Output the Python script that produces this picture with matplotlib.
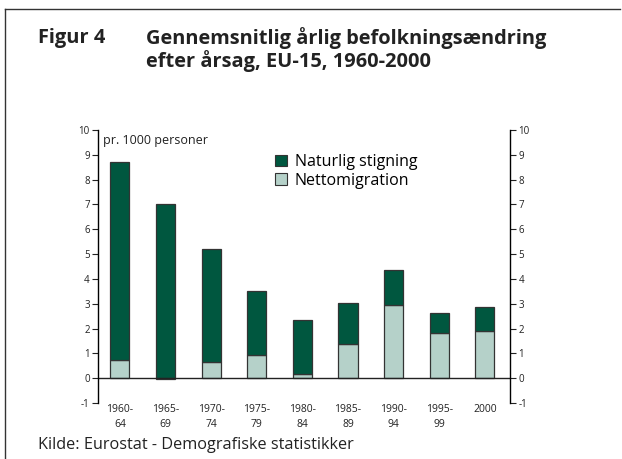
import matplotlib.pyplot as plt
from matplotlib.lines import Line2D
from matplotlib.patches import Patch

plt.rcParams['font.family'] = ['Open Sans', 'DejaVu Sans']
plt.rcParams['axes.unicode_minus'] = False

# data (pr. 1000 personer)
perioder = ['1960-\n64', '1965-\n69', '1970-\n74', '1975-\n79', '1980-\n84',
            '1985-\n89', '1990-\n94', '1995-\n99', '2000']
total = [8.70, 7.00, 5.20, 3.50, 2.33, 3.03, 4.35, 2.62, 2.85]
nettomigration = [0.75, -0.05, 0.65, 0.92, 0.18, 1.38, 2.93, 1.83, 1.92]
naturlig = [t - max(m, 0) for t, m in zip(total, nettomigration)]

dark = '#00573f'
light = '#b5d1c9'
edge = '#333333'

fig = plt.figure(figsize=(6.22, 4.59), dpi=100)
ax = fig.add_axes([98 / 622, 1 - 403 / 459, 412 / 622, 273 / 459])

x = list(range(len(perioder)))
bottoms = [max(m, 0) for m in nettomigration]
ax.bar(x, nettomigration, width=0.42, color=light, edgecolor=edge, linewidth=0.9)
ax.bar(x, naturlig, width=0.42, bottom=bottoms, color=dark, edgecolor=edge, linewidth=0.9)

ax.set_xlim(-0.48, 8.55)
ax.set_ylim(-1, 10)
ax.set_yticks(range(-1, 11))
ax.axhline(0, color='#222222', linewidth=1.0)

for s in ['top', 'bottom', 'right']:
    ax.spines[s].set_visible(False)
ax.spines['left'].set_linewidth(1.0)
ax.tick_params(axis='y', labelsize=7, length=4, width=0.8, color='#222222',
               labelcolor='#222222', pad=2)
ax.set_xticks(x)
ax.set_xticklabels(perioder, fontsize=7.5, color='#222222', linespacing=1.5)
ax.tick_params(axis='x', length=0, pad=1)

ax2 = ax.twinx()
ax2.set_ylim(-1, 10)
ax2.set_yticks(range(-1, 11))
for s in ['top', 'bottom', 'left']:
    ax2.spines[s].set_visible(False)
ax2.spines['right'].set_linewidth(1.0)
ax2.tick_params(axis='y', labelsize=7, length=4, width=0.8, color='#222222',
                labelcolor='#222222', pad=2)

ax.text(0.012, 0.985, 'pr. 1000 personer', transform=ax.transAxes, fontsize=9,
        va='top', ha='left', color='#222222')

handles = [Patch(facecolor=dark, edgecolor=edge, linewidth=0.8),
           Patch(facecolor=light, edgecolor=edge, linewidth=0.8)]
ax.legend(handles, ['Naturlig stigning', 'Nettomigration'], loc='upper left',
          bbox_to_anchor=(0.415, 0.935), frameon=False, fontsize=11.5,
          handlelength=0.7, handleheight=0.7, handletextpad=0.5,
          labelspacing=0.15, borderaxespad=0)

fig.text(38 / 622, 1 - 38 / 459, 'Figur 4', fontsize=14.4, fontweight='bold',
         va='center', ha='left', color='#222222')
fig.text(146 / 622, 1 - 38 / 459, 'Gennemsnitlig årlig befolkningsændring',
         fontsize=14.4, fontweight='bold', va='center', ha='left', color='#222222')
fig.text(146 / 622, 1 - 61 / 459, 'efter årsag, EU-15, 1960-2000',
         fontsize=14.4, fontweight='bold', va='center', ha='left', color='#222222')
fig.text(38 / 622, 1 - 445 / 459, 'Kilde: Eurostat - Demografiske statistikker',
         fontsize=11.7, va='center', ha='left', color='#222222')

# frame lines at top and left
fig.add_artist(Line2D([5 / 622, 620 / 622], [1 - 9 / 459, 1 - 9 / 459],
                      color='#333333', linewidth=1.0, transform=fig.transFigure))
fig.add_artist(Line2D([5 / 622, 5 / 622], [1 - 9 / 459, 0],
                      color='#333333', linewidth=1.0, transform=fig.transFigure))

fig.savefig('out.png', dpi=100)
